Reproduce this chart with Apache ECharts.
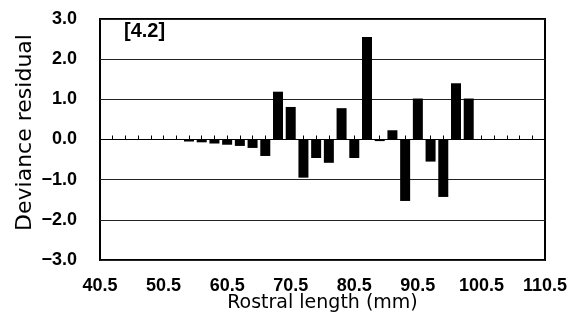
<!DOCTYPE html>
<html>
<head>
<meta charset="utf-8">
<title>Deviance residual by rostral length</title>
<script src="https://cdn.jsdelivr.net/npm/echarts@6/dist/echarts.min.js"></script>
<style>
  html, body { margin: 0; padding: 0; background: #fff; }
  #chart { width: 570px; height: 320px; }
</style>
</head>
<body>
<div id="chart"></div>
<script>
// Rostral length bin centres (mm) and the deviance residual of each bin
const binCenters = [54.5, 56.5, 58.5, 60.5, 62.5, 64.5, 66.5, 68.5, 70.5, 72.5, 74.5, 76.5,
                    78.5, 80.5, 82.5, 84.5, 86.5, 88.5, 90.5, 92.5, 94.5, 96.5, 98.5];
const residuals = [-0.05, -0.07, -0.10, -0.13, -0.16, -0.21, -0.41, 1.19, 0.81, -0.95, -0.46, -0.58,
                   0.78, -0.46, 2.55, -0.04, 0.23, -1.53, 1.02, -0.55, -1.43, 1.40, 1.02];

// Axis extents and tick spacing
const xRange = [40.5, 110.5];
const xLabelStep = 10;
const xTickStep = 2;
const yRange = [-3, 3];
const yStep = 1;

const panelTag = '[4.2]';
const xTitle = 'Rostral length (mm)';
const yTitle = 'Deviance residual';

const seriesData = binCenters.map((x, i) => [x, residuals[i]]);

const chart = echarts.init(document.getElementById('chart'), null, { renderer: 'canvas' });

const tickFont = {
  fontFamily: '"Liberation Sans", Arial, sans-serif',
  fontWeight: 'bold',
  fontSize: 18,
  color: '#000'
};

chart.setOption({
  animation: false,
  backgroundColor: '#fff',
  grid: {
    left: 100, right: 25, top: 19, bottom: 60,
    outerBoundsMode: 'none',
    show: true, borderColor: '#000', borderWidth: 2, backgroundColor: 'transparent'
  },
  xAxis: [
    {
      // bottom axis carrying the labels and the title
      type: 'value',
      min: xRange[0], max: xRange[1], interval: xLabelStep,
      position: 'bottom',
      axisLine: { show: false, onZero: false },
      axisTick: { show: false },
      splitLine: { show: false },
      axisLabel: { ...tickFont, margin: 17, formatter: v => v.toFixed(1) },
      name: xTitle,
      nameLocation: 'middle',
      nameGap: 34,
      nameMoveOverlap: false,
      nameTextStyle: { fontFamily: '"DejaVu Sans", sans-serif', fontSize: 19, color: '#000' }
    },
    {
      // axis line through zero with the short upward ticks
      type: 'value',
      min: xRange[0], max: xRange[1], interval: xTickStep,
      position: 'top',
      axisLine: { show: true, onZero: true, lineStyle: { color: '#000', width: 1 } },
      axisTick: { show: true, inside: false, length: 4, lineStyle: { color: '#000', width: 1 } },
      axisLabel: { show: false },
      splitLine: { show: false }
    }
  ],
  yAxis: {
    type: 'value',
    min: yRange[0], max: yRange[1], interval: yStep,
    axisLine: { show: false, onZero: false },
    axisTick: { show: false },
    splitLine: { show: true, lineStyle: { color: '#222', width: 1 } },
    axisLabel: {
      ...tickFont, margin: 23,
      formatter: v => (v < 0 ? '\u2212' : '') + Math.abs(v).toFixed(1)
    },
    name: yTitle,
    nameLocation: 'middle',
    nameGap: 64,
    nameMoveOverlap: false,
    nameTextStyle: {
      fontFamily: '"DejaVu Sans", sans-serif', fontSize: 22, color: '#000',
      padding: [0, 0, 0, 14]
    }
  },
  graphic: [
    {
      type: 'text',
      left: 124, top: 21,
      style: { text: panelTag, font: 'bold 20px "Liberation Sans", Arial, sans-serif', fill: '#000' }
    }
  ],
  series: [
    {
      type: 'bar',
      xAxisIndex: 0,
      yAxisIndex: 0,
      data: seriesData,
      barWidth: 10,
      itemStyle: { color: '#000' },
      z: 3
    }
  ]
});
</script>
</body>
</html>
